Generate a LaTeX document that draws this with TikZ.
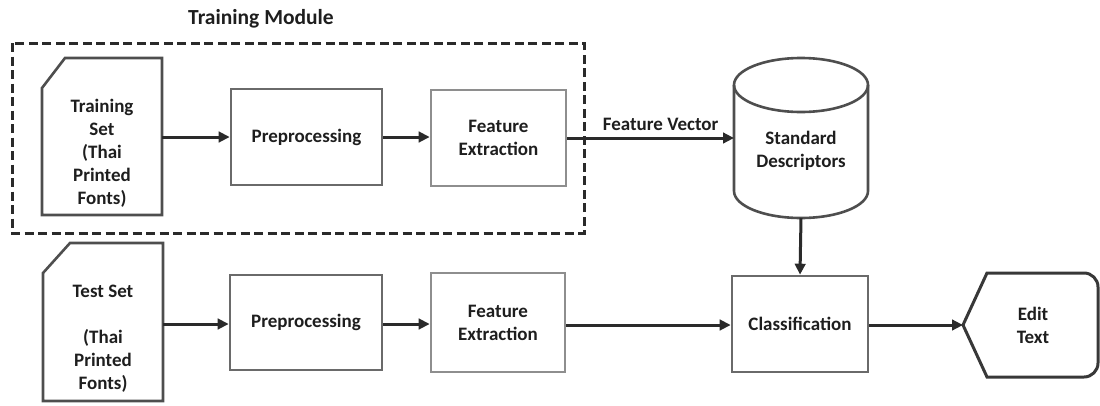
\documentclass[tikz,border=0pt]{standalone}
\usepackage{fontspec}
\setmainfont{Carlito}
\usetikzlibrary{arrows.meta}

\definecolor{ink}{HTML}{1E1E1E}
\definecolor{wire}{HTML}{2A2A2A}
\definecolor{frameA}{HTML}{6A6A6A}
\definecolor{frameB}{HTML}{8E8E8E}
\definecolor{frameC}{HTML}{4E4E4E}
\definecolor{frameD}{HTML}{383838}

\begin{document}
\begin{tikzpicture}[x=1pt,y=-1pt,
  lbl/.style={font=\bfseries\fontsize{19}{23}\selectfont, text=ink, align=center},
  procbox/.style={lbl, draw=frameA, line width=2.6pt, inner sep=0pt},
  featbox/.style={procbox, draw=frameB},
  holder/.style={inner sep=0pt, outer sep=0pt},
  docline/.style={draw=frameC, line width=2.6pt, line join=miter},
  arr/.style={draw=wire, line width=3pt, -{Triangle[length=11pt,width=10.5pt]}},
  groupframe/.style={draw=wire, line width=3pt, dash pattern=on 9pt off 4.5pt}
]
\useasboundingbox (0,0) rectangle (1100,405);

% training group frame and its title
\draw[groupframe] (12,43) rectangle (584,233);
\node[lbl, font=\bfseries\fontsize{21.5}{25}\selectfont] (title) at (261,19) {Training Module};

% document shapes for the input sets
\node[holder, minimum width=120pt, minimum height=157pt] (trainset) at (102,136.5) {};
\draw[docline] ([xshift=23pt]trainset.north west) -- (trainset.north east)
  -- (trainset.south east) -- (trainset.south west)
  -- ([yshift=-30pt]trainset.north west) -- cycle;
\node[lbl] (traintext) at (102,153) {Training\\Set\\(Thai\\Printed\\Fonts)};

\node[holder, minimum width=120pt, minimum height=158pt] (testset) at (103,322) {};
\draw[docline] ([xshift=27pt]testset.north west) -- (testset.north east)
  -- (testset.south east) -- (testset.south west)
  -- ([yshift=-30pt]testset.north west) -- cycle;
\node[lbl] (testtext) at (103,339) {Test Set\\[23pt](Thai\\Printed\\Fonts)};

% processing stages
\node[procbox, minimum width=151pt, minimum height=96pt] (pre1) at (306.5,137) {Preprocessing};
\node[featbox, minimum width=135pt, minimum height=96pt] (fe1) at (498.5,138) {Feature\\Extraction};
\node[procbox, minimum width=152pt, minimum height=95pt] (pre2) at (306,322.5) {Preprocessing};
\node[featbox, minimum width=134pt, minimum height=99pt] (fe2) at (498,322.5) {Feature\\Extraction};
\node[procbox, minimum width=136pt, minimum height=96pt] (cls) at (800,324) {Classification};

% database cylinder
\node[holder, minimum width=134pt, minimum height=160pt] (cyl) at (801,138) {};
\draw[docline, line join=round]
  ([yshift=-27pt]cyl.north west) -- ([yshift=27pt]cyl.south west)
  arc[start angle=180, end angle=360, x radius=67pt, y radius=27pt]
  -- ([yshift=-27pt]cyl.north east);
\draw[docline] ([yshift=-27pt]cyl.north) ellipse[x radius=67pt, y radius=27pt];
\node[lbl] (cyltext) at (801,151) {Standard\\Descriptors};

% display shape for the output
\node[holder, minimum width=135pt, minimum height=104pt] (edit) at (1030.5,325) {};
\draw[draw=frameD, line width=3pt, line join=miter]
  (edit.west) -- ([xshift=24pt]edit.north west)
  -- ([xshift=-14pt]edit.north east) arc[start angle=90, end angle=0, radius=14pt]
  -- ([yshift=14pt]edit.south east) arc[start angle=0, end angle=-90, radius=14pt]
  -- ([xshift=24pt]edit.south west) -- cycle;
\node[lbl] (edittext) at (1033,325) {Edit\\Text};

% connectors
\draw[arr] (trainset.east |- pre1.west) -- (pre1.west);
\draw[arr] (pre1.east) -- (fe1.west |- pre1.east);
\draw[arr] (fe1.east) -- node[lbl, above=3pt, pos=0.56] (fvlabel) {Feature Vector} (cyl.west |- fe1.east);
\draw[arr] (cyl.south) -- (cls.north);
\draw[arr] (testset.east |- 0,324) -- (pre2.west |- 0,324);
\draw[arr] (pre2.east |- 0,324) -- (fe2.west |- 0,324);
\draw[arr] (fe2.east |- 0,325) -- (cls.west |- 0,325);
\draw[arr] (cls.east |- edit.west) -- (edit.west);
\end{tikzpicture}
\end{document}
